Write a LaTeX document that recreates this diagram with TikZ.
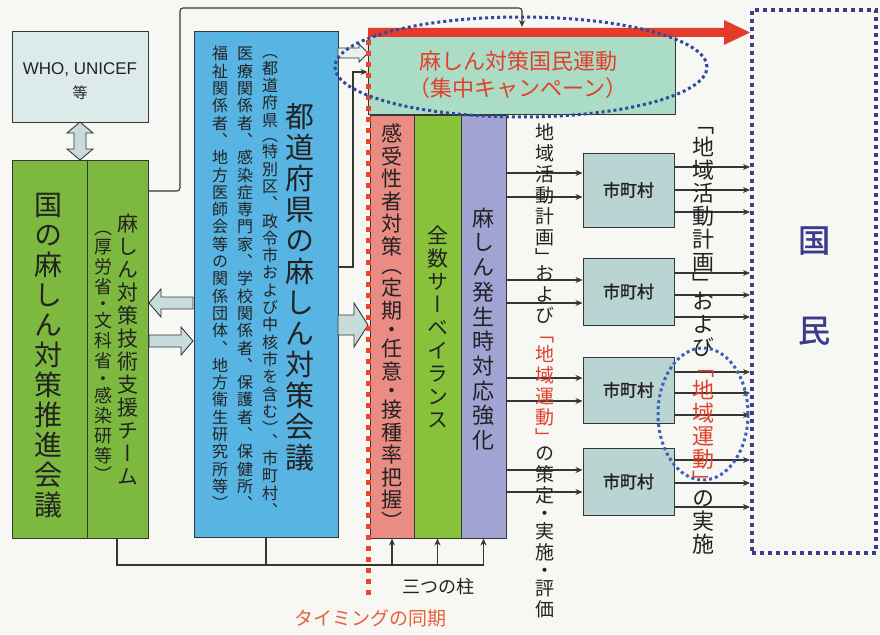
\documentclass[tikz,border=0pt]{standalone}
\usepackage{fontspec}
\setmainfont{Liberation Sans}
\newfontfamily\jp{Noto Sans CJK JP}
\newfontfamily\jpv[RawFeature=+vert]{Noto Sans CJK JP}
\newfontfamily\jpb[FakeBold=1.5]{Noto Sans CJK JP}
\usetikzlibrary{arrows.meta,calc}
\definecolor{bg}{HTML}{F7F7F3}
\definecolor{txt}{HTML}{222222}
\definecolor{ln}{HTML}{363636}
\definecolor{whof}{HTML}{DDEAEA}
\definecolor{grnf}{HTML}{7DB83F}
\definecolor{bluf}{HTML}{58B4E2}
\definecolor{redf}{HTML}{EA8C83}
\definecolor{pgrf}{HTML}{88C13A}
\definecolor{purf}{HTML}{A1A3D2}
\definecolor{mint}{HTML}{ABDCC6}
\definecolor{cityf}{HTML}{BAD3D3}
\definecolor{vred}{HTML}{E2402C}
\definecolor{barc}{HTML}{E53B2C}
\definecolor{navy}{HTML}{3C3C8C}
\definecolor{dotb}{HTML}{2F4A9A}
\definecolor{dotc}{HTML}{3A62B8}
\definecolor{orng}{HTML}{E8603A}
\definecolor{barf}{HTML}{C9DCDC}
\makeatletter
\newdimen\vs@p \newdimen\vs@sp
\newcount\vs@kind
\def\vsR{vsRmarker}\def\vsK{vsKmarker}
\newcommand\vcol[2]{\vbox{\offinterlineskip\vs@p=#1\relax\vs@sp=0.72\vs@p\def\vs@col{.}\vs@loop#2\relax}}
\def\vs@loop#1{%
  \ifx#1\relax\let\vs@next\relax
  \else
    \let\vs@next\vs@loop
    \ifx#1\vsR\def\vs@col{vred}%
    \else\ifx#1\vsK\def\vs@col{.}%
    \else
      \vs@kind=0
      \ifx#1（\vs@kind=1 \fi
      \ifx#1「\vs@kind=1 \fi
      \ifx#1）\vs@kind=2 \fi
      \ifx#1」\vs@kind=2 \fi
      \ifx#1・\vs@kind=3 \fi
      \ifcase\vs@kind
        \vbox to \vs@p{\vss\vs@char{#1}\vss}%
      \or
        \vbox to \vs@sp{\vss\vs@char{#1}}%
      \or
        \vbox to \vs@sp{\vs@char{#1}\vss}%
      \else
        \vbox to \vs@sp{\vss\vs@char{#1}\vss}%
      \fi
    \fi\fi
  \fi\vs@next}
\def\vs@char#1{\hbox to 1em{\hss{\color{\vs@col}\vrule height .88em depth .12em width 0pt\relax #1}\hss}}
\makeatother
\begin{document}
\begin{tikzpicture}[x=1pt,y=-1pt,
  box/.style={draw=ln, line width=1pt, inner sep=0pt, rectangle},
  conn/.style={draw=ln, line width=1.1pt},
  arr/.style={conn, -{Stealth[length=7pt,width=6pt]}},
  barrow/.style={draw=ln, line width=0.9pt, fill=barf},
  vt/.style={inner sep=0pt, text=txt},
  citybox/.style={box, fill=cityf, minimum width=91pt, font={\jpb\fontsize{17pt}{19pt}\selectfont}, text=txt}
  ]
\fill[bg] (0,0) rectangle (880,634);
\useasboundingbox (0,0) rectangle (880,634);

% ---- boxes ----
\node[box, fill=whof, minimum width=136pt, minimum height=90pt] (who) at (80,77) {};
\node[box, fill=grnf, minimum width=136pt, minimum height=378pt] (green) at (80,349) {};
\draw[ln, line width=1pt] ($(green.north west)+(76,0)$) -- ($(green.south west)+(76,0)$);
\node[box, fill=bluf, minimum width=144pt, minimum height=505pt] (blue) at (266,284.5) {};
\node[box, fill=mint, minimum width=307pt, minimum height=84pt] (camp) at (521.5,72) {};
\node[box, fill=redf, minimum width=44pt, minimum height=423pt] (redp) at (392,326.5) {};
\node[box, fill=pgrf, minimum width=47pt, minimum height=423pt] (grnp) at (437.5,326.5) {};
\node[box, fill=purf, minimum width=45pt, minimum height=423pt] (purp) at (483.5,326.5) {};
\node[citybox, minimum height=74pt] (m1) at (628.5,190) {市町村};
\node[citybox, minimum height=67pt] (m2) at (628.5,291.5) {市町村};
\node[citybox, minimum height=66pt] (m3) at (628.5,390) {市町村};
\node[citybox, minimum height=67pt] (m4) at (628.5,481.5) {市町村};
\node[draw=navy, line width=4pt, dash pattern=on 4pt off 4pt, minimum width=124pt, minimum height=543pt, inner sep=0pt] (people) at (814,281.5) {};

% ---- red bar arrow (top) ----
\fill[barc] (368,28) -- (724,28) -- (724,20) -- (750,32.5) -- (724,45) -- (724,37) -- (368,37) -- cycle;

% ---- block arrows ----
\draw[barrow] (80,122) -- (93,133) -- (86,133) -- (86,149) -- (93,149) -- (80,160) -- (67,149) -- (74,149) -- (74,133) -- (67,133) -- cycle;
\draw[barrow] (149,303) -- (161,289) -- (161,297) -- (193,297) -- (193,309) -- (161,309) -- (161,317) -- cycle;
\draw[barrow] (149,335) -- (181,335) -- (181,327) -- (193,341) -- (181,355) -- (181,347) -- (149,347) -- cycle;
\draw[barrow] (338,315) -- (354,315) -- (354,303) -- (368,325) -- (354,347) -- (354,335) -- (338,335) -- cycle;
\draw[barrow, fill=white!60!barf] (338,48) -- (359,48) -- (359,44) -- (368,53) -- (359,62) -- (359,58) -- (338,58) -- cycle;

% ---- timing line ----
\coordinate (synctop) at (368,40);
\coordinate (syncbot) at (368,600);
\draw[orng!70!red, line width=5pt, dash pattern=on 5pt off 6pt] (synctop) -- (syncbot);

% ---- connectors ----
\draw[arr, rounded corners=3pt] (green.east |- 0,191) -- (180,191) -- (180,8) -- (522,8) -- (522,27);
\draw[arr] (blue.east |- 0,267) -- (353,267) -- (353,72) -- (camp.west |- 0,72);
\draw[conn] ($(green.south)+(37,0)$) -- (117,565) -- (483.5,565);
\draw[conn] (blue.south) -- (blue.south |- 0,565);
\draw[arr] (redp.south |- 0,565) -- (redp.south);
\draw[arr] (grnp.south |- 0,565) -- (grnp.south);
\draw[arr] (purp.south |- 0,565) -- (purp.south);

\foreach \n/\ya/\yb in {m1/173/197, m2/280/303, m3/378/401, m4/470/492}{
  \draw[arr] (purp.east |- 0,\ya) -- (\n.west |- 0,\ya);
  \draw[arr] (purp.east |- 0,\yb) -- (\n.west |- 0,\yb);
}
\foreach \n/\ya/\yb/\yc in {m1/167/190/212, m2/273/295/317, m3/372/393/415, m4/460/483/507}{
  \draw[arr] (\n.east |- 0,\ya) -- (people.west |- 0,\ya);
  \draw[arr] (\n.east |- 0,\yb) -- (people.west |- 0,\yb);
  \draw[arr] (\n.east |- 0,\yc) -- (people.west |- 0,\yc);
}

% ---- texts ----
\node[vt, font={\fontsize{17pt}{19pt}\selectfont}] (whot) at (80,70) {WHO, UNICEF};
\node[vt, font={\jp\fontsize{15pt}{17pt}\selectfont}] (whot2) at (80,93) {等};

\node[vt, font={\jpv\fontsize{28pt}{28pt}\selectfont}] (gt1) at (48,355) {\vcol{30pt}{国の麻しん対策推進会議}};
\node[vt, font={\jpv\fontsize{21pt}{21pt}\selectfont}] (gt2) at (128,350) {\vcol{23pt}{麻しん対策技術支援チーム}};
\node[vt, font={\jpv\fontsize{18pt}{18pt}\selectfont}] (gt3) at (103,350) {\vcol{20pt}{（厚労省・文科省・感染研等）}};

\node[vt, font={\jpv\fontsize{29pt}{29pt}\selectfont}] (bt1) at (300,287) {\vcol{31pt}{都道府県の麻しん対策会議}};
\node[vt, anchor=north, font={\jpv\fontsize{16pt}{16pt}\selectfont}] (bt2) at (270,45) {\vcol{17.3pt}{（都道府県（特別区、政令市および中核市を含む）、市町村、}};
\node[vt, anchor=north, font={\jpv\fontsize{16pt}{16pt}\selectfont}] (bt3) at (245,45) {\vcol{17.3pt}{医療関係者、感染症専門家、学校関係者、保護者、保健所、}};
\node[vt, anchor=north, font={\jpv\fontsize{16pt}{16pt}\selectfont}] (bt4) at (220,45) {\vcol{17.3pt}{福祉関係者、地方医師会等の関係団体、地方衛生研究所等）}};

\node[vt, font={\jp\fontsize{22pt}{27pt}\selectfont}, text=vred, align=center] (campt) at (518,75) {麻しん対策国民運動\\（集中キャンペーン）};

\node[vt, font={\jpv\fontsize{21pt}{21pt}\selectfont}] (rt) at (392,325) {\vcol{22.5pt}{感受性者対策（定期・任意・接種率把握）}};
\node[vt, font={\jpv\fontsize{21pt}{21pt}\selectfont}] (gpt) at (437.5,328) {\vcol{23pt}{全数サーベイランス}};
\node[vt, font={\jpv\fontsize{22pt}{22pt}\selectfont}] (ppt) at (483.5,329) {\vcol{24.7pt}{麻しん発生時対応強化}};

\node[vt, font={\jpv\fontsize{19pt}{19pt}\selectfont}] (midt) at (545,371) {\vcol{21pt}{地域活動計画」および\vsR「地域運動」\vsK の策定・実施・評価}};
\node[vt, font={\jpv\fontsize{22pt}{22pt}\selectfont}] (rgt) at (703,336) {\vcol{23pt}{「地域活動計画」および\vsR「地域運動」\vsK の実施}};

\node[vt, text=navy, font={\jpb\fontsize{32pt}{32pt}\selectfont}] (pt) at (814,285) {\vcol{90pt}{国民}};

\node[vt, font={\jp\fontsize{18pt}{20pt}\selectfont}] (pillars) at (438,587) {三つの柱};
\node[vt, text=orng, font={\jp\fontsize{19pt}{21pt}\selectfont}] (sync) at (370,618) {タイミングの同期};

% ---- dotted ellipses ----
\draw[dotb, line width=3pt, dash pattern=on 3pt off 3pt] (521,67) ellipse [x radius=186pt, y radius=50pt];
\draw[dotc, line width=3pt, dash pattern=on 3pt off 3pt] (703,414) ellipse [x radius=45pt, y radius=66pt];
\end{tikzpicture}
\end{document}
